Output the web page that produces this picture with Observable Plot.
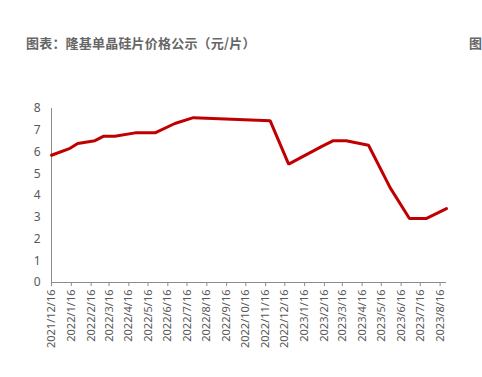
<!DOCTYPE html>
<html><head><meta charset="utf-8">
<script src="https://cdn.jsdelivr.net/npm/d3@7"></script>
<script src="https://cdn.jsdelivr.net/npm/@observablehq/plot@0.6"></script>
<style>
html,body{margin:0;padding:0;background:#fff;overflow:hidden;width:482px;height:377px;}
#wrap{position:relative;width:482px;height:377px;}
#title{position:absolute;z-index:2;left:26px;top:33px;font-family:"Noto Sans CJK SC",sans-serif;font-weight:bold;font-size:13px;color:#666;white-space:nowrap;letter-spacing:0.2px;}
#title2{position:absolute;z-index:2;left:469px;top:33px;font-family:"Noto Sans CJK SC",sans-serif;font-weight:bold;font-size:13px;color:#666;white-space:nowrap;}
#chart{position:absolute;z-index:1;left:0;top:0;}
</style></head>
<body><div id="wrap"><div id="chart"></div><div id="title">图表：隆基单晶硅片价格公示（元/片）</div><div id="title2">图</div></div>
<script>
const dates = ["2021-12-16","2022-01-14","2022-01-26","2022-02-22","2022-03-07","2022-03-25","2022-04-26","2022-05-27","2022-06-27","2022-07-26","2022-11-23","2022-12-22","2023-02-12","2023-03-02","2023-03-22","2023-04-26","2023-05-30","2023-06-29","2023-07-25","2023-08-26"];
const prices = [5.85,6.17,6.39,6.52,6.72,6.72,6.88,6.88,7.31,7.58,7.44,5.44,6.26,6.52,6.52,6.31,4.35,2.94,2.94,3.40];
const xTickLabels = ["2021/12/16","2022/1/16","2022/2/16","2022/3/16","2022/4/16","2022/5/16","2022/6/16","2022/7/16","2022/8/16","2022/9/16","2022/10/16","2022/11/16","2022/12/16","2023/1/16","2023/2/16","2023/3/16","2023/4/16","2023/5/16","2023/6/16","2023/7/16","2023/8/16"];
const yTicks = [0,1,2,3,4,5,6,7,8];

const parse = s => { const [y,m,d] = s.split(/[-\/]/).map(Number); return new Date(Date.UTC(y, m-1, d)); };
const data = dates.map((d,i) => ({date: parse(d), price: prices[i]}));
const tickDates = xTickLabels.map(parse);
const fmt = d => `${d.getUTCFullYear()}/${d.getUTCMonth()+1}/${d.getUTCDate()}`;

const chart = Plot.plot({
  width: 482, height: 377,
  marginLeft: 51, marginRight: 36, marginTop: 108, marginBottom: 95,
  style: {fontFamily: "'Noto Sans', sans-serif", fontSize: "11px", color: "#595959", background: "transparent"},
  x: {type: "utc", domain: [data[0].date, data[data.length-1].date]},
  y: {domain: [0, 8]},
  marks: [
    Plot.axisY({ticks: yTicks, tickSize: 0, tickPadding: 11, label: null, tickFormat: d => String(d), fontSize: 12}),
    Plot.axisX({ticks: tickDates, tickSize: 4, tickPadding: 3, tickRotate: -90, tickFormat: fmt, label: null, stroke: "#8c8c8c"}),
    Plot.ruleX([data[0].date], {y1: 0, y2: 8, stroke: "#8c8c8c"}),
    Plot.ruleY([0], {stroke: "#8c8c8c"}),
    Plot.line(data, {x: "date", y: "price", stroke: "#c00000", strokeWidth: 3, strokeLinejoin: "miter"})
  ]
});
document.getElementById("chart").appendChild(chart);
</script></body></html>
